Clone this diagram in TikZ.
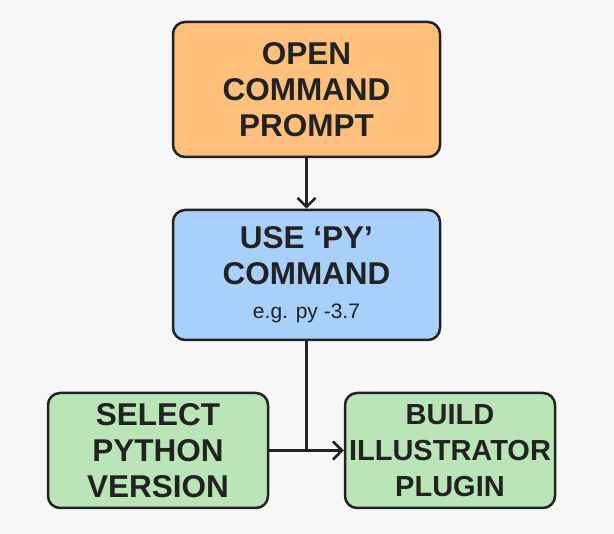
\documentclass[tikz,border=0pt]{standalone}
\usepackage{fontspec}
\setmainfont{Liberation Sans}
\usetikzlibrary{arrows.meta}
\definecolor{bgc}{HTML}{F7F7F7}
\definecolor{orangec}{HTML}{FDBF7C}
\definecolor{bluec}{HTML}{A9D0FA}
\definecolor{greenc}{HTML}{BAE5B6}
\definecolor{linec}{HTML}{222222}
\begin{document}
\begin{tikzpicture}[x=1pt, y=-1pt, box/.style={rectangle, rounded corners=12pt, draw=linec, line width=2.5pt, align=center, inner sep=2pt, font=\fontsize{31.5}{36}\selectfont\bfseries, text=linec}, arrow/.style={-{Straight Barb[length=9pt, width=18pt, line width=2.5pt]}, line width=2.5pt, draw=linec}]

    % Hintergrund
    \fill[bgc] (0,0) rectangle (614,534);
    \useasboundingbox (0,0) rectangle (614,534);

    % Kaesten
    \node[box, fill=orangec, minimum width=267pt, minimum height=135pt] (prompt) at (306.5, 89.5) {OPEN\\COMMAND\\PROMPT};
    \node[box, fill=bluec, minimum width=267pt, minimum height=130pt] (pycmd) at (306.5, 275) {USE ‘PY’\\COMMAND\\[-2pt]{\fontsize{21}{25}\selectfont\mdseries e.g. py -3.7}};
    \node[box, fill=greenc, minimum width=220pt, minimum height=115pt] (select) at (158, 450.5) {SELECT\\PYTHON\\VERSION};
    \node[box, fill=greenc, minimum width=210pt, minimum height=115pt, font=\fontsize{29}{36}\selectfont\bfseries] (build) at (450, 450.5) {BUILD\\ILLUSTRATOR\\PLUGIN};

    % Verbindungen
    \draw[arrow] (prompt) -- (pycmd);
    \coordinate (join) at (pycmd.south |- select.east);
    \draw[line width=2.5pt, draw=linec] (pycmd.south) -- (join);
    \draw[arrow] (select.east) -- (build.west);

\end{tikzpicture}
\end{document}
